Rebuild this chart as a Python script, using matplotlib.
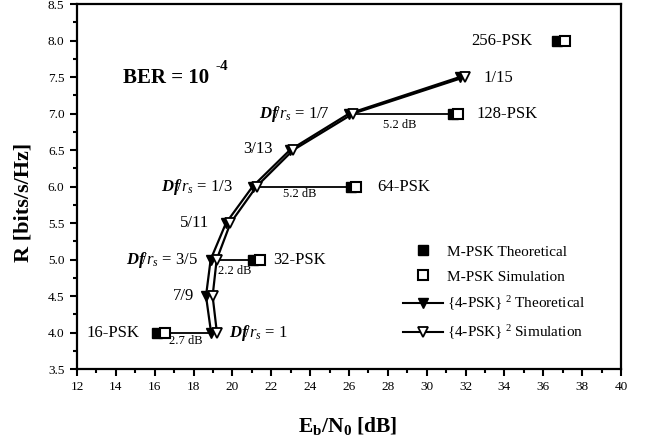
import matplotlib
matplotlib.use("Agg")
import matplotlib.pyplot as plt
from matplotlib.lines import Line2D

plt.rcParams['font.family'] = ['Liberation Serif', 'DejaVu Serif']
plt.rcParams['mathtext.fontset'] = 'custom'
plt.rcParams['mathtext.rm'] = 'Liberation Serif'
plt.rcParams['mathtext.it'] = 'Liberation Serif:italic'
plt.rcParams['mathtext.bf'] = 'Liberation Serif:bold'
plt.rcParams['mathtext.bfit'] = 'Liberation Serif:bold:italic'

# rate R [bits/s/Hz]
rate = [4.0, 4.5, 5.0, 5.5, 6.0, 6.5, 7.0, 7.5]
# {4-PSK}^2 Eb/N0 [dB]
q_theo = [18.9, 18.64, 18.88, 19.67, 21.04, 22.96, 26.01, 31.71]
q_sim = [19.2, 18.98, 19.19, 19.9, 21.24, 23.13, 26.22, 31.97]
q_labels = ["Df/r_s = 1", "7/9", "Df/r_s = 3/5", "5/11",
            "Df/r_s = 1/3", "3/13", "Df/r_s = 1/7", "1/15"]

# M-PSK points
psk_names = ["16-PSK", "32-PSK", "64-PSK", "128-PSK", "256-PSK"]
psk_rate = [4.0, 5.0, 6.0, 7.0, 8.0]
psk_theo = [16.13, 21.07, 26.08, 31.33, 36.7]
psk_sim = [16.53, 21.42, 26.35, 31.62, 37.1]

# gains between M-PSK and {4-PSK}^2
gain_text = ["2.7 dB", "2.2 dB", "5.2 dB", "5.2 dB"]

fig = plt.figure(figsize=(6.46, 4.43), dpi=100)
ax = fig.add_axes([77/646, 1-369/443, 544/646, 365/443])

# connector lines
ax.plot([psk_sim[0], q_theo[0]], [rate[0], rate[0]], color='black', lw=1.3, zorder=1)
ax.plot([q_sim[2], psk_theo[1]], [rate[2], rate[2]], color='black', lw=1.3, zorder=1)
ax.plot([q_theo[4], psk_theo[2]], [rate[4], rate[4]], color='black', lw=1.3, zorder=1)
ax.plot([q_theo[6], psk_theo[3]], [rate[6], rate[6]], color='black', lw=1.3, zorder=1)

ax.plot(q_theo, rate, color='black', lw=1.6, marker='v', ms=7.5,
        mfc='black', mec='black', zorder=3)
ax.plot(q_sim, rate, color='black', lw=1.6, marker='v', ms=7.5,
        mfc='white', mec='black', mew=1.3, zorder=4)
ax.plot(psk_theo, psk_rate, ls='none', marker='s', ms=6.5, mfc='black',
        mec='black', zorder=3)
ax.plot(psk_sim, psk_rate, ls='none', marker='s', ms=6.5, mfc='white',
        mec='black', mew=1.5, zorder=4)

def dflabel(s):
    if s.startswith("Df/r_s"):
        return r"$\mathbfit{Df}\!/r_s$" + s[6:]
    return s

fs = 12
# labels of the {4-PSK}^2 curve
ax.text(18.02, 4.5, q_labels[1], ha='right', va='center', fontsize=fs)
ax.text(18.23, 5.0, dflabel(q_labels[2]), ha='right', va='center', fontsize=fs)
ax.text(18.8, 5.5, q_labels[3], ha='right', va='center', fontsize=fs)
ax.text(20.03, 6.0, dflabel(q_labels[4]), ha='right', va='center', fontsize=fs)
ax.text(22.09, 6.52, q_labels[5], ha='right', va='center', fontsize=fs)
ax.text(25.02, 7.0, dflabel(q_labels[6]), ha='right', va='center', fontsize=fs)
ax.text(19.82, 4.0, dflabel(q_labels[0]), ha='left', va='center', fontsize=fs)
ax.text(32.9, 7.48, q_labels[7], ha='left', va='center', fontsize=fs)

ax.text(15.24, 4.0, psk_names[0], ha='right', va='center', fontsize=fs)
ax.text(22.09, 5.0, psk_names[1], ha='left', va='center', fontsize=fs)
ax.text(27.44, 6.0, psk_names[2], ha='left', va='center', fontsize=fs)
ax.text(32.54, 7.0, psk_names[3], ha='left', va='center', fontsize=fs)
ax.text(35.47, 8.0, psk_names[4], ha='right', va='center', fontsize=fs)

ax.text(17.6, 3.88, gain_text[0], ha='center', va='center', fontsize=9)
ax.text(20.13, 4.84, gain_text[1], ha='center', va='center', fontsize=9)
ax.text(23.48, 5.9, gain_text[2], ha='center', va='center', fontsize=9)
ax.text(28.62, 6.84, gain_text[3], ha='center', va='center', fontsize=9)

ber = ax.text(14.35, 7.49, "BER = 10", ha='left', va='center',
              fontsize=15, fontweight='bold')
ax.annotate("-4", xy=(1, 1), xycoords=ber, xytext=(5, 1),
            textcoords='offset points', ha='left', va='center',
            fontsize=11, fontweight='bold')

ax.set_xlim(12, 40)
ax.set_ylim(3.5, 8.5)
ax.set_xticks(range(12, 41, 2))
ax.set_xticks(range(13, 40, 2), minor=True)
ax.set_yticks([3.5 + 0.5*i for i in range(11)])
ax.set_yticklabels(["%.1f" % (3.5 + 0.5*i) for i in range(11)])
ax.set_yticks([3.75 + 0.5*i for i in range(10)], minor=True)
ax.tick_params(which='both', direction='out', width=1.5, labelsize=9.5,
               top=False, right=False)
ax.tick_params(which='major', length=5, pad=4)
ax.tick_params(which='minor', length=3)
for sp in ax.spines.values():
    sp.set_linewidth(1.6)

ax.set_xlabel(r"E$_\mathbf{b}$/N$_\mathbf{0}$ [dB]", fontsize=15.5, fontweight='bold')
ax.xaxis.set_label_coords(0.498, -0.126)
ax.set_ylabel("R [bits/s/Hz]", fontsize=16, fontweight='bold')
ax.yaxis.set_label_coords(-0.08, 0.457)

handles = [
    Line2D([], [], ls='none', marker='s', ms=6.5, mfc='black', mec='black'),
    Line2D([], [], ls='none', marker='s', ms=6.5, mfc='white', mec='black', mew=1.5),
    Line2D([], [], color='black', lw=1.5, marker='v', ms=7.5, mfc='black', mec='black'),
    Line2D([], [], color='black', lw=1.5, marker='v', ms=7.5, mfc='white', mec='black', mew=1.3),
]
labels = ["M-PSK Theoretical", "M-PSK Simulation",
          r"{4-PSK}$^{\ 2}$ Theoretical", r"{4-PSK}$^{\ 2}$ Simulation"]
ax.legend(handles, labels, loc='upper left', bbox_to_anchor=(0.574, 0.377),
          frameon=False, fontsize=11, handlelength=2.6, handletextpad=0.3,
          labelspacing=0.72)

fig.savefig("out.png", dpi=100)
